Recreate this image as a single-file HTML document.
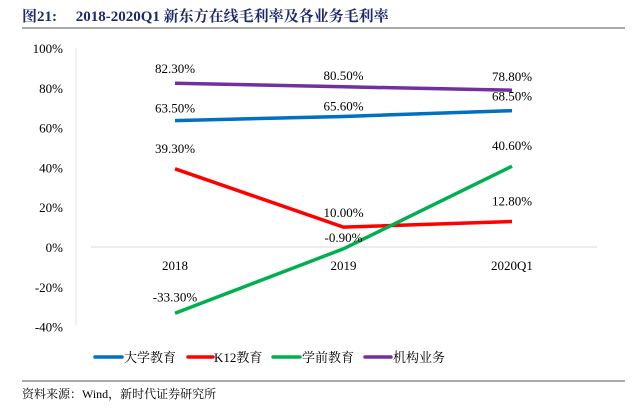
<!DOCTYPE html>
<html><head><meta charset="utf-8"><style>
body{margin:0;background:#fff;width:638px;height:408px;overflow:hidden;font-family:"Liberation Serif","Noto Serif CJK SC",serif;}
</style></head><body>
<svg width="638" height="408" xmlns="http://www.w3.org/2000/svg">
<text x="22" y="21" font-size="15" font-weight="bold" fill="#1d2a6b">图21:　 2018-2020Q1 新东方在线毛利率及各业务毛利率</text>
<line x1="22" y1="28" x2="625" y2="28" stroke="#555" stroke-width="1"/>
<line x1="76" y1="48" x2="76" y2="326" stroke="#e6e6e6" stroke-width="1"/>
<line x1="91" y1="247" x2="597" y2="247" stroke="#d9d9d9" stroke-width="1"/>
<g id="yt"></g>
<g id="xt"></g>
<g id="lines"></g>
<g id="labels"></g>
<g font-size="13">
<g><line x1="95" y1="357" x2="122" y2="357" stroke="#0070c0" stroke-width="3.5" stroke-linecap="round"/><text x="124" y="362">大学教育</text></g>
<g><line x1="188" y1="357" x2="213" y2="357" stroke="#ff0000" stroke-width="3.5" stroke-linecap="round"/><text x="214" y="362">K12教育</text></g>
<g><line x1="273" y1="357" x2="300" y2="357" stroke="#00b050" stroke-width="3.5" stroke-linecap="round"/><text x="302" y="362">学前教育</text></g>
<g><line x1="365" y1="357" x2="391" y2="357" stroke="#7030a0" stroke-width="3.5" stroke-linecap="round"/><text x="393" y="362">机构业务</text></g>
</g>
<line x1="22" y1="381" x2="625" y2="381" stroke="#555" stroke-width="1"/>
<text x="22" y="398" font-size="12">资料来源：Wind，新时代证券研究所</text>
</svg>
<script>
const categories=["2018","2019","2020Q1"];
const seriesNames=["大学教育","K12教育","学前教育","机构业务"];
const university=[63.5,65.6,68.5];
const k12=[39.3,10.0,12.8];
const preschool=[-33.3,-0.9,40.6];
const institution=[82.3,80.5,78.8];
const yTicks=[100,80,60,40,20,0,-20,-40];
const ns="http://www.w3.org/2000/svg";
function y(v){return 247-v*1.99;}
function x(i){return 175+i*168.5;}
function mk(t,a,p){const e=document.createElementNS(ns,t);for(const k in a)e.setAttribute(k,a[k]);p.appendChild(e);return e;}
const yt=document.getElementById('yt'),xt=document.getElementById('xt'),lg=document.getElementById('lines'),lb=document.getElementById('labels');
yTicks.forEach(v=>{const t=mk('text',{x:63,y:y(v)+5,'font-size':13,'text-anchor':'end'},yt);t.textContent=v+'%';

});
categories.forEach((c,i)=>{const t=mk('text',{x:x(i),y:270,'font-size':13,'text-anchor':'middle'},xt);t.textContent=c;

});
const ser=[[university,'#0070c0','university-line',[-12,-10,-14]],[k12,'#ff0000','k12-line',[-20,-14,-20]],[preschool,'#00b050','preschool-line',[-16,-11,-20]],[institution,'#7030a0','institution-line',[-14,-11,-13]]];
ser.forEach(([d,c,n,off])=>{const p=mk('polyline',{points:d.map((v,i)=>x(i)+','+y(v)).join(' '),fill:'none',stroke:c,'stroke-width':3.5},lg);


d.forEach((v,i)=>{const t=mk('text',{x:x(i),y:y(v)+off[i]+4,'font-size':13,'text-anchor':'middle'},lb);t.textContent=v.toFixed(2)+'%';

});});
</script>
</body></html>
